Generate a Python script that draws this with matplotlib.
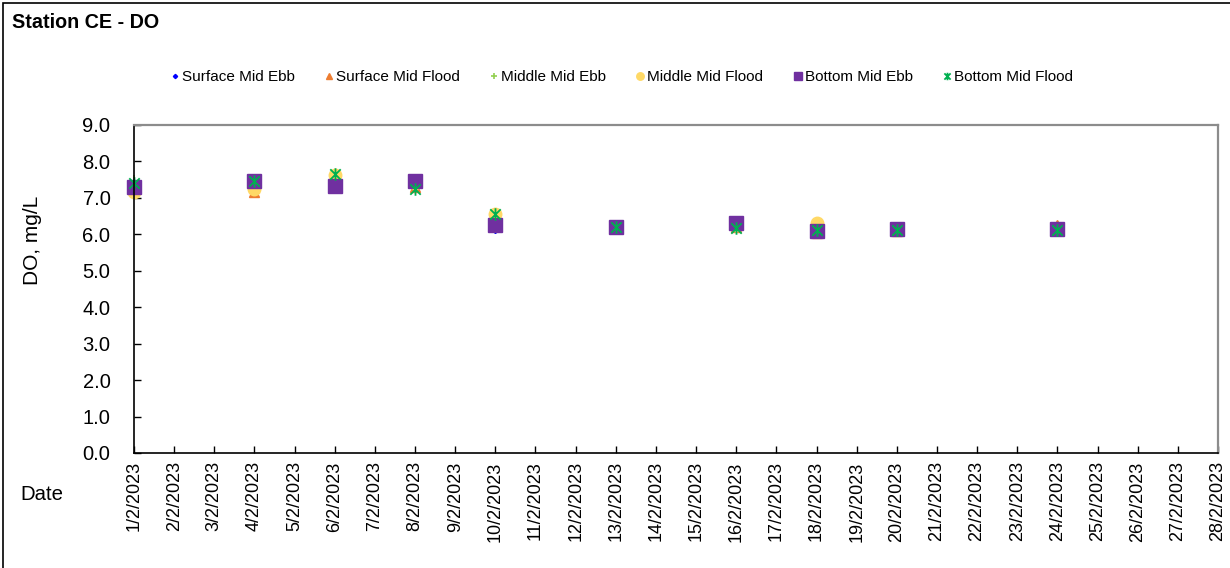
import matplotlib
matplotlib.use("Agg")
import matplotlib.pyplot as plt
from matplotlib.path import Path
from matplotlib.patches import Rectangle

plt.rcParams['font.family'] = ['Liberation Sans', 'DejaVu Sans']

# ---- data ----
days = [1, 4, 6, 8, 10, 13, 16, 18, 20, 24]          # day of February 2023
surface_mid_ebb = [7.30, 7.50, 7.40, 7.40, 6.15, 6.20, 6.25, 6.10, 6.15, 6.15]
surface_mid_flood = [7.30, 7.17, 7.40, 7.30, 6.30, 6.25, 6.20, 6.05, 6.10, 6.25]
middle_mid_ebb = [7.45, 7.45, 7.60, 7.40, 6.40, 6.20, 6.20, 6.10, 6.15, 6.18]
middle_mid_flood = [7.15, 7.25, 7.63, 7.40, 6.57, 6.20, 6.25, 6.30, 6.15, 6.15]
bottom_mid_ebb = [7.30, 7.45, 7.33, 7.45, 6.25, 6.20, 6.30, 6.10, 6.15, 6.15]
bottom_mid_flood = [7.40, 7.45, 7.66, 7.25, 6.55, 6.20, 6.18, 6.12, 6.12, 6.12]

tick_days = list(range(1, 29))
tick_labels = [f"{d}/2/2023" for d in tick_days]
y_ticks = [0, 1, 2, 3, 4, 5, 6, 7, 8, 9]

W, H = 1230, 568
fig = plt.figure(figsize=(W / 100, H / 100), dpi=100)
ax = fig.add_axes([134 / W, 1 - 453 / H, (1218 - 134) / W, (453 - 125) / H])

star = Path([(-1, -1), (1, 1), (-1, 1), (1, -1), (0, -1.2), (0, 1.2)],
            [Path.MOVETO, Path.LINETO, Path.MOVETO, Path.LINETO, Path.MOVETO, Path.LINETO])

series = [
    ("Surface Mid Ebb", surface_mid_ebb, dict(marker='D', color='#0000FF', markersize=3.6)),
    ("Surface Mid Flood", surface_mid_flood, dict(marker='^', color='#ED7D31', markersize=7)),
    ("Middle Mid Ebb", middle_mid_ebb, dict(marker='+', color='#92D050', markersize=8, markeredgewidth=1.2)),
    ("Middle Mid Flood", middle_mid_flood, dict(marker='o', color='#FFD966', markersize=9)),
    ("Bottom Mid Ebb", bottom_mid_ebb, dict(marker='s', color='#7030A0', markersize=9.5)),
    ("Bottom Mid Flood", bottom_mid_flood, dict(marker=star, color='#00B050', markersize=9,
                                                 markeredgewidth=1.3, fillstyle='none')),
]
for name, vals, kw in series:
    ax.plot(days, vals, linestyle='none', label=name, clip_on=False, **kw)

ax.set_xlim(1, 28)
ax.set_ylim(0, 9)
ax.set_xticks(tick_days)
ax.set_xticklabels(tick_labels, rotation=90, fontsize=13)
ax.set_yticks(y_ticks)
ax.set_yticklabels([f"{v:.1f}" for v in y_ticks], fontsize=14.5)
ax.tick_params(axis='both', direction='in', length=5, width=1, color='black')
ax.tick_params(axis='y', pad=17)
ax.tick_params(axis='x', pad=6)
for s in ['left', 'bottom']:
    ax.spines[s].set_color('black')
    ax.spines[s].set_linewidth(1.2)
for s in ['top', 'right']:
    ax.spines[s].set_color('#8C8C8C')
    ax.spines[s].set_linewidth(1.6)

# figure border
fig.patches.append(Rectangle((3 / W, -0.1), 1.2, 1 - 3 / H + 0.1, transform=fig.transFigure,
                             fill=False, edgecolor='black', linewidth=1.2))

fig.text(12 / W, 1 - 22 / H, "Station CE - DO", fontsize=14.2, fontweight='bold', va='center', ha='left')
fig.text(33 / W, 1 - 240 / H, "DO, mg/L", fontsize=15, rotation=90, va='center', ha='center')
fig.text(20 / W, 1 - 495 / H, "Date", fontsize=14.7, va='center', ha='left')

leg = fig.legend(loc='center', bbox_to_anchor=(622 / W, 1 - 77 / H), ncol=6, frameon=False,
                 fontsize=11, handlelength=0.5, handletextpad=0.2, columnspacing=2.0,
                 borderaxespad=0, markerscale=0.6)

fig.savefig("out.png", dpi=100)
